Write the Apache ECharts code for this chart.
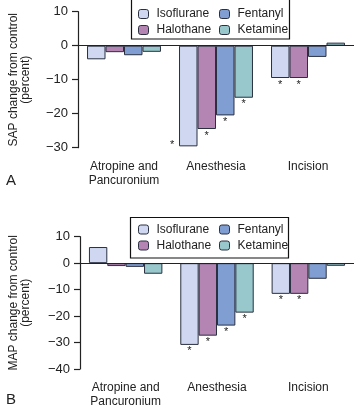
<!DOCTYPE html>
<html>
<head>
<meta charset="utf-8">
<script src="https://cdn.jsdelivr.net/npm/echarts@6/dist/echarts.min.js"></script>
<style>
  html, body { margin: 0; padding: 0; background: #fff; }
  #chart { width: 354px; height: 409px; }
</style>
</head>
<body>
<div id="chart"></div>
<script>
// categories and drug groups
var categories = ["Atropine and\nPancuronium", "Anesthesia", "Incision"];
var drugs = ["Isoflurane", "Halothane", "Fentanyl", "Ketamine"];
var colors = ["#cfd8f0", "#b485b3", "#819ed3", "#98c8cb"];

// panel A: SAP change from control (percent)
var sapIsoflurane = [-4.0, -29.6, -9.5];
var sapHalothane = [-1.9, -24.5, -9.5];
var sapFentanyl = [-2.8, -20.5, -3.3];
var sapKetamine = [-1.8, -15.3, 0.9];
var sapSignificant = [
    [false, true, true],
    [false, true, true],
    [false, true, false],
    [false, true, false]
];

// panel B: MAP change from control (percent)
var mapIsoflurane = [6.1, -30.9, -11.6];
var mapHalothane = [-1.1, -27.4, -11.6];
var mapFentanyl = [-1.4, -23.6, -5.9];
var mapKetamine = [-4.0, -18.7, -1.0];
var mapSignificant = [
    [false, true, true],
    [false, true, true],
    [false, true, false],
    [false, true, false]
];

var sapTicks = [-30, -20, -10, 0, 10];
var mapTicks = [-40, -30, -20, -10, 0, 10];

var FONT = "Liberation Sans, Arial, sans-serif";
var chart = echarts.init(document.getElementById("chart"));

function fmtTick(v) {
    return v < 0 ? "\u2212" + Math.abs(v) : String(v);
}

function makeData(values, sig, starLeft) {
    return values.map(function (v, i) {
        var item = { value: v };
        if (sig[i]) {
            item.label = { show: true };
            if (starLeft && starLeft[i]) {
                item.label.position = [-7, "100%"];
                item.label.align = "center";
                item.label.verticalAlign = "top";
                item.label.offset = [0, -7];
            }
        }
        return item;
    });
}

function makeSeries(gridIndex, sets, sigs, leftStars) {
    return sets.map(function (vals, k) {
        var s = {
            name: drugs[k],
            type: "bar",
            xAxisIndex: gridIndex,
            yAxisIndex: gridIndex,
            barGap: "0%",
            barCategoryGap: "19.6%",
            itemStyle: { color: colors[k], borderColor: "#2a3040", borderWidth: 1 },
            label: {
                show: false,
                position: "bottom",
                distance: 1,
                formatter: "*",
                fontSize: 11,
                fontFamily: FONT,
                color: "#222"
            },
            emphasis: { disabled: true },
            data: makeData(vals, sigs[k], leftStars[k])
        };
        if (k === 0) {
            s.markLine = {
                silent: true,
                symbol: "none",
                label: { show: false },
                lineStyle: { color: "#222", width: 1.2, type: "solid" },
                data: [{ yAxis: 0 }]
            };
        }
        return s;
    });
}

function xAxis(gridIndex) {
    return {
        type: "category",
        gridIndex: gridIndex,
        data: categories,
        position: "bottom",
        axisLine: { show: false },
        axisTick: { show: false },
        axisLabel: {
            interval: 0,
            hideOverlap: false,
            margin: 12,
            fontSize: 12,
            lineHeight: 14,
            color: "#222",
            fontFamily: FONT
        }
    };
}

function yAxis(gridIndex, ticks, name, gap) {
    return {
        type: "value",
        gridIndex: gridIndex,
        min: ticks[0],
        max: ticks[ticks.length - 1],
        interval: 10,
        name: name,
        nameLocation: "middle",
        nameGap: gap,
        nameTextStyle: { fontSize: 12, lineHeight: 12, color: "#222", fontFamily: FONT },
        axisLine: { show: true, lineStyle: { color: "#222", width: 1.2 } },
        axisTick: { show: true, length: 6, lineStyle: { color: "#222", width: 1.2 } },
        splitLine: { show: false },
        axisLabel: {
            margin: 10,
            fontSize: 13,
            color: "#222",
            fontFamily: FONT,
            formatter: fmtTick
        }
    };
}

function legends(top) {
    var base = {
        orient: "vertical",
        itemWidth: 10,
        itemHeight: 9,
        itemGap: 4,
        selectedMode: false,
        textStyle: { fontSize: 12, lineHeight: 12, color: "#222", fontFamily: FONT, padding: [0, 0, 0, 3] },
        itemStyle: { borderColor: "#2a3040", borderWidth: 1 }
    };
    var a = Object.assign({}, base, { left: 133, top: top, data: ["Isoflurane", "Halothane"] });
    var b = Object.assign({}, base, { left: 214, top: top, data: ["Fentanyl", "Ketamine"] });
    return [a, b];
}

var option = {
    animation: false,
    backgroundColor: "#fff",
    title: [
        { text: "A", left: 1, top: 168, textStyle: { fontSize: 15, fontWeight: "normal", color: "#222", fontFamily: FONT } },
        { text: "B", left: 1, top: 387, textStyle: { fontSize: 15, fontWeight: "normal", color: "#222", fontFamily: FONT } }
    ],
    legend: legends(3).concat(legends(218.5)),
    graphic: [
        { type: "rect", silent: true, shape: { x: 131.5, y: -0.5, width: 158, height: 39.5 }, style: { fill: "none", stroke: "#111", lineWidth: 1.2 }, z: 100 },
        { type: "rect", silent: true, shape: { x: 130.5, y: 217.5, width: 158, height: 40.5 }, style: { fill: "none", stroke: "#111", lineWidth: 1.2 }, z: 100 }
    ],
    grid: [
        { left: 70, right: 0, top: 11.7, height: 136 },
        { left: 70, right: 0, top: 236.7, height: 132.6 }
    ],
    xAxis: [xAxis(0), xAxis(1)],
    yAxis: [
        yAxis(0, sapTicks, "SAP change from control\n(percent)", 46),
        yAxis(1, mapTicks, "MAP change from control\n(percent)", 48)
    ],
    series: makeSeries(0, [sapIsoflurane, sapHalothane, sapFentanyl, sapKetamine], sapSignificant,
        [[false, true, false], [], [], []])
        .concat(makeSeries(1, [mapIsoflurane, mapHalothane, mapFentanyl, mapKetamine], mapSignificant,
        [[], [], [], []]))
};

chart.setOption(option);
</script>
</body>
</html>
